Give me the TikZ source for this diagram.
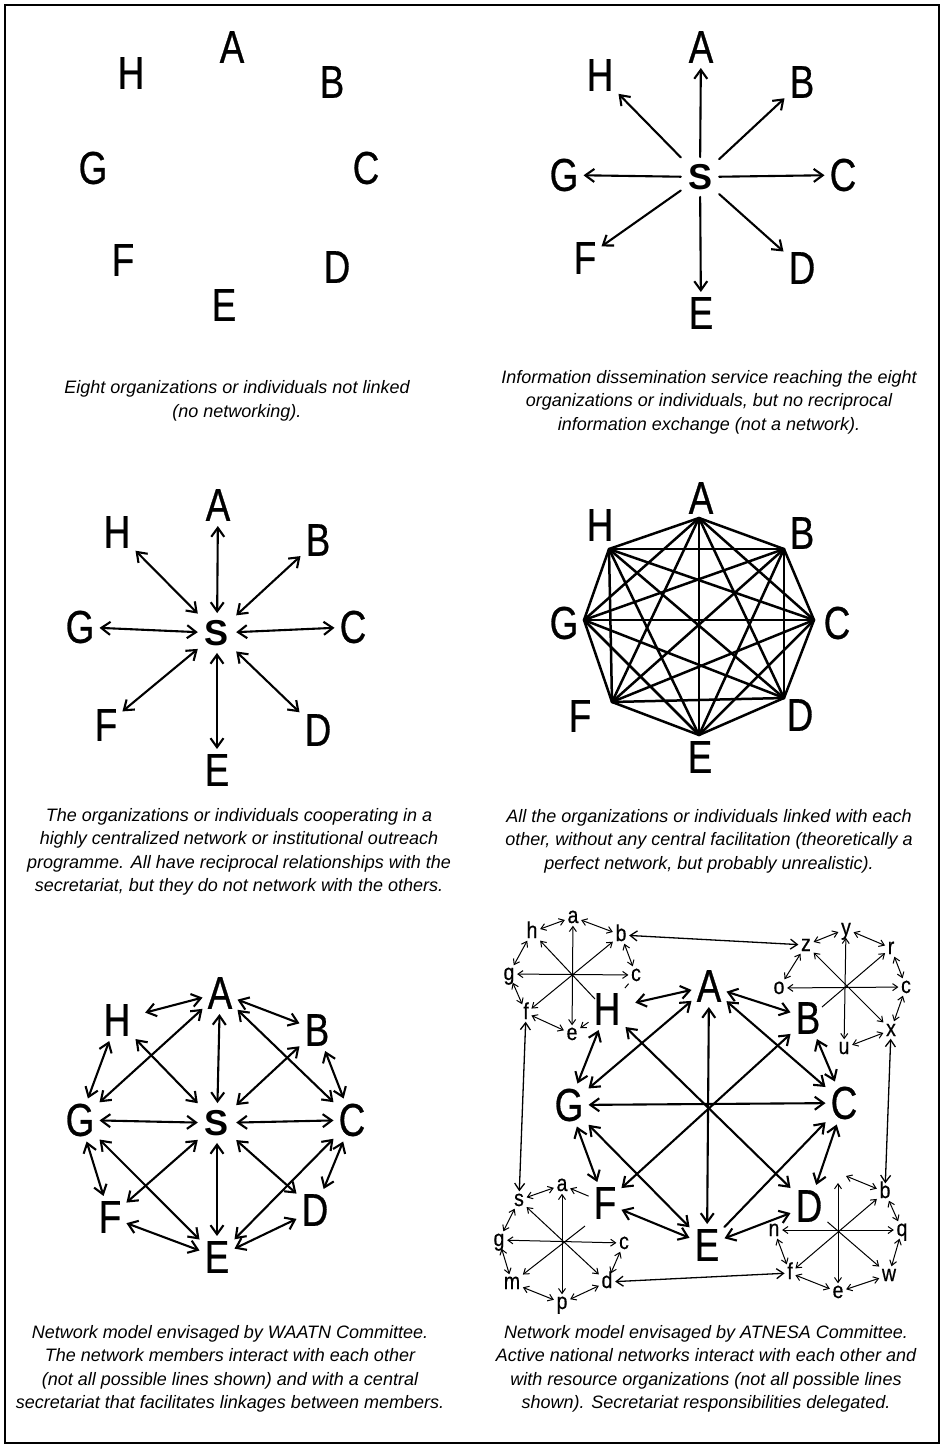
\documentclass[tikz,border=0pt]{standalone}
\usepackage{fontspec}
\setmainfont{Liberation Sans}
\newfontfamily\lettr[FakeStretch=0.8,FakeBold=0.6]{Liberation Sans}
\newfontfamily\smlett[FakeStretch=0.85,FakeBold=0.5]{Liberation Sans}
\usetikzlibrary{arrows.meta}
\begin{document}
\begin{tikzpicture}[x=1pt,y=-1pt,
  big/.style={font=\lettr\fontsize{46}{46}\selectfont, inner sep=5pt},
  sec/.style={font=\bfseries\fontsize{36}{36}\selectfont, inner sep=7pt},
  sml/.style={font=\smlett\fontsize{23}{23}\selectfont, inner sep=2.5pt, text height=12pt, text depth=0pt},
  captext/.style={font=\fontsize{18}{23.5}\selectfont\itshape, align=center, inner sep=0pt},
  arr/.style={line width=2.1pt, line cap=round, -{Straight Barb[length=9pt,width=13pt]}},
  darr/.style={line width=2.1pt, line cap=round, {Straight Barb[length=9pt,width=13pt]}-{Straight Barb[length=9pt,width=13pt]}},
  kedge/.style={line width=2.5pt, line cap=round, line join=round},
  sdarr/.style={line width=1pt, {Straight Barb[length=5pt,width=7pt]}-{Straight Barb[length=5pt,width=7pt]}},
  sarr/.style={line width=1pt, -{Straight Barb[length=5pt,width=7pt]}},
  sline/.style={line width=1pt},
  ldarr/.style={line width=1.3pt, {Straight Barb[length=7pt,width=10pt]}-{Straight Barb[length=7pt,width=10pt]}}
]
\useasboundingbox (0,0) rectangle (944,1448);
\fill[white] (0,0) rectangle (944,1448);
\draw[line width=1.5pt] (5,5) rectangle (939,1443);

% ---------------- Panel 1 ----------------
\node[big] (p1A) at (232,47) {A};
\node[big] (p1H) at (131,73) {H};
\node[big] (p1B) at (332,82) {B};
\node[big] (p1G) at (93,168) {G};
\node[big] (p1C) at (366,168) {C};
\node[big] (p1F) at (123,260) {F};
\node[big] (p1D) at (337,267) {D};
\node[big] (p1E) at (224,305) {E};
\node[captext] (cap1) at (237,401) {Eight organizations or individuals not linked\\(no networking).};

% ---------------- Panel 2 ----------------
\node[sec] (p2S) at (700,177) {S};
\node[big] (p2A) at (701,47) {A};
\node[big] (p2H) at (600,75) {H};
\node[big] (p2B) at (802,82) {B};
\node[big] (p2G) at (564,175) {G};
\node[big] (p2C) at (843,175) {C};
\node[big] (p2F) at (585,258) {F};
\node[big] (p2D) at (802,268) {D};
\node[big] (p2E) at (701,313) {E};
\foreach \n in {A,B,C,D,E,F,G,H} \draw[arr] (p2S) -- (p2\n);
\node[captext] (cap2) at (709,402) {Information dissemination service reaching the eight\\organizations or individuals, but no recriprocal\\information exchange (not a network).};

% ---------------- Panel 3 ----------------
\node[sec] (p3S) at (217,633) {S};
\node[big] (p3A) at (218,505) {A};
\node[big] (p3H) at (117,532) {H};
\node[big] (p3B) at (318,540) {B};
\node[big] (p3G) at (80,627) {G};
\node[big] (p3C) at (353,627) {C};
\node[big] (p3F) at (106,725) {F};
\node[big] (p3D) at (318,730) {D};
\node[big] (p3E) at (217,770) {E};
\foreach \n in {A,B,C,D,E,F,G,H} \draw[darr] (p3S) -- (p3\n);
\node[captext] (cap3) at (239,852) {The organizations or individuals cooperating in a\\highly centralized network or institutional outreach\\programme. All have reciprocal relationships with the\\secretariat, but they do not network with the others.};

% ---------------- Panel 4 ----------------
\coordinate (v1) at (699,518);
\coordinate (v2) at (784,549);
\coordinate (v3) at (814,620);
\coordinate (v4) at (784,698);
\coordinate (v5) at (699,735);
\coordinate (v6) at (612,702);
\coordinate (v7) at (584,620);
\coordinate (v8) at (609,549);
\foreach \i in {1,...,7}{
  \pgfmathtruncatemacro\k{\i+1}
  \foreach \j in {\k,...,8}{\draw[kedge] (v\i) -- (v\j);}
}
\node[big] (p4A) at (701,498) {A};
\node[big] (p4H) at (600,525) {H};
\node[big] (p4B) at (802,533) {B};
\node[big] (p4G) at (564,623) {G};
\node[big] (p4C) at (837,623) {C};
\node[big] (p4F) at (580,716) {F};
\node[big] (p4D) at (800,715) {D};
\node[big] (p4E) at (700,757) {E};
\node[captext] (cap4) at (709,841) {All the organizations or individuals linked with each\\other, without any central facilitation (theoretically a\\perfect network, but probably unrealistic).};

% ---------------- Panel 5 ----------------
\node[sec] (p5S) at (217,1123) {S};
\node[big] (p5A) at (220,993) {A};
\node[big] (p5H) at (117,1020) {H};
\node[big] (p5B) at (317,1030) {B};
\node[big] (p5G) at (80,1120) {G};
\node[big] (p5C) at (352,1120) {C};
\node[big] (p5F) at (110,1217) {F};
\node[big] (p5D) at (315,1210) {D};
\node[big] (p5E) at (217,1257) {E};
\foreach \n in {A,B,C,D,E,F,G,H} \draw[darr] (p5S) -- (p5\n);
\draw[darr, shorten <=10pt] (p5H) -- (p5A);
\draw[darr] (p5A) -- (p5B);
\draw[darr] (p5H) -- (p5G);
\draw[darr] (p5B) -- (p5C);
\draw[darr] (p5G) -- (p5F);
\draw[darr] (p5C) -- (p5D);
\draw[darr] (p5F) -- (p5E);
\draw[darr] (p5E) -- (p5D);
\draw[darr] (p5A) -- (p5G);
\draw[darr] (p5A) -- (p5C);
\draw[darr] (p5G) -- (p5E);
\draw[darr] (p5C) -- (p5E);
\node[captext] (cap5) at (230,1369) {Network model envisaged by WAATN Committee.\\The network members interact with each other\\(not all possible lines shown) and with a central\\secretariat that facilitates linkages between members.};

% ---------------- Panel 6 ----------------
\node[big] (p6A) at (709,986) {A};
\node[big] (p6B) at (808,1018) {B};
\node[big] (p6H) at (607,1009) {H};
\node[big] (p6G) at (569,1105) {G};
\node[big] (p6C) at (844,1103) {C};
\node[big] (p6F) at (605,1203) {F};
\node[big] (p6D) at (809,1206) {D};
\node[big] (p6E) at (707,1245) {E};
\draw[darr] (p6G) -- (p6C);
\draw[darr] (p6A) -- (p6E);
\draw[darr] (p6H) -- (p6D);
\draw[darr] (p6B) -- (p6F);
\draw[darr] (p6A) -- (p6G);
\draw[darr] (p6A) -- (p6C);
\draw[darr] (p6G) -- (p6E);
\draw[arr] (p6E) -- (p6C);
\draw[darr] (p6H) -- (p6G);
\draw[darr] (p6B) -- (p6C);
\draw[darr] (p6G) -- (p6F);
\draw[darr] (p6C) -- (p6D);
\draw[darr] (p6F) -- (p6E);
\draw[darr] (p6E) -- (p6D);
\draw[darr, shorten <=10pt] (p6H) -- (p6A);
\draw[darr] (p6A) -- (p6B);

% cluster 1 (around H)
\node[sml] (a1) at (573,917) {a};
\node[sml] (h1) at (532,932) {h};
\node[sml] (b1) at (621,935) {b};
\node[sml] (g1) at (509,974) {g};
\node[sml] (c1) at (636,975) {c};
\node[sml] (f1) at (526,1013) {f};
\node[sml] (e1) at (572,1034) {e};
\coordinate (k1) at (595,999);
\draw[sdarr] (a1) -- (e1);
\draw[sdarr] (g1) -- (c1);
\draw[sdarr] (b1) -- (f1);
\draw[sarr] (k1) -- (h1);
\draw[sdarr] (h1) -- (a1);
\draw[sdarr] (a1) -- (b1);
\draw[sdarr] (b1) -- (c1);
\draw[sdarr] (h1) -- (g1);
\draw[sdarr] (g1) -- (f1);
\draw[sdarr] (f1) -- (e1);
\draw[sline] (c1) -- (p6H);
\draw[sarr] (p6H) -- (e1);

% cluster 2 (around B)
\node[sml] (y2) at (846,929) {y};
\node[sml] (z2) at (806,945) {z};
\node[sml] (r2) at (891,948) {r};
\node[sml] (o2) at (779,988) {o};
\node[sml] (c2) at (906,987) {c};
\node[sml] (x2) at (891,1030) {x};
\node[sml] (u2) at (844,1048) {u};
\coordinate (k2) at (822,1007);
\draw[sdarr] (y2) -- (u2);
\draw[sdarr] (o2) -- (c2);
\draw[sdarr] (z2) -- (x2);
\draw[sarr] (k2) -- (r2);
\draw[sdarr] (z2) -- (y2);
\draw[sdarr] (y2) -- (r2);
\draw[sdarr] (r2) -- (c2);
\draw[sdarr] (c2) -- (x2);
\draw[sdarr] (x2) -- (u2);
\draw[sdarr] (o2) -- (z2);

% cluster 3 (around F)
\node[sml] (a3) at (562,1185) {a};
\node[sml] (s3) at (519,1200) {s};
\node[sml] (g3) at (499,1240) {g};
\node[sml] (c3) at (624,1243) {c};
\node[sml] (m3) at (512,1283) {m};
\node[sml] (d3) at (607,1282) {d};
\node[sml] (p3) at (562,1303) {p};
\coordinate (k3) at (585,1226);
\draw[sdarr] (a3) -- (p3);
\draw[sdarr] (g3) -- (c3);
\draw[sdarr] (s3) -- (d3);
\draw[sarr] (k3) -- (m3);
\draw[sdarr] (a3) -- (s3);
\draw[sdarr] (s3) -- (g3);
\draw[sdarr] (g3) -- (m3);
\draw[sdarr] (m3) -- (p3);
\draw[sdarr] (p3) -- (d3);
\draw[sdarr] (d3) -- (c3);
\draw[sarr] (p6F) -- (a3);

% cluster 4 (around D)
\node[sml] (b4) at (885,1192) {b};
\node[sml] (q4) at (902,1230) {q};
\node[sml] (n4) at (774,1230) {n};
\node[sml] (f4) at (790,1273) {f};
\node[sml] (w4) at (889,1275) {w};
\node[sml] (e4) at (838,1292) {e};
\coordinate (t4) at (838,1183);
\coordinate (t4r) at (846,1176);
\draw[sdarr] (t4) -- (e4);
\draw[sdarr] (n4) -- (q4);
\draw[sdarr] (b4) -- (f4);
\draw[sarr] (p6D) -- (w4);
\draw[sdarr] (t4r) -- (b4);
\draw[sdarr] (b4) -- (q4);
\draw[sdarr] (q4) -- (w4);
\draw[sdarr] (w4) -- (e4);
\draw[sdarr] (e4) -- (f4);
\draw[sdarr] (f4) -- (n4);

% links between clusters
\draw[ldarr] (b1) -- (z2);
\draw[ldarr] (f1) -- (s3);
\draw[ldarr] (x2) -- (b4);
\draw[ldarr] (d3) -- (f4);

\node[captext] (cap6) at (706,1369) {Network model envisaged by ATNESA Committee.\\Active national networks interact with each other and\\with resource organizations (not all possible lines\\shown). Secretariat responsibilities delegated.};
\end{tikzpicture}
\end{document}
